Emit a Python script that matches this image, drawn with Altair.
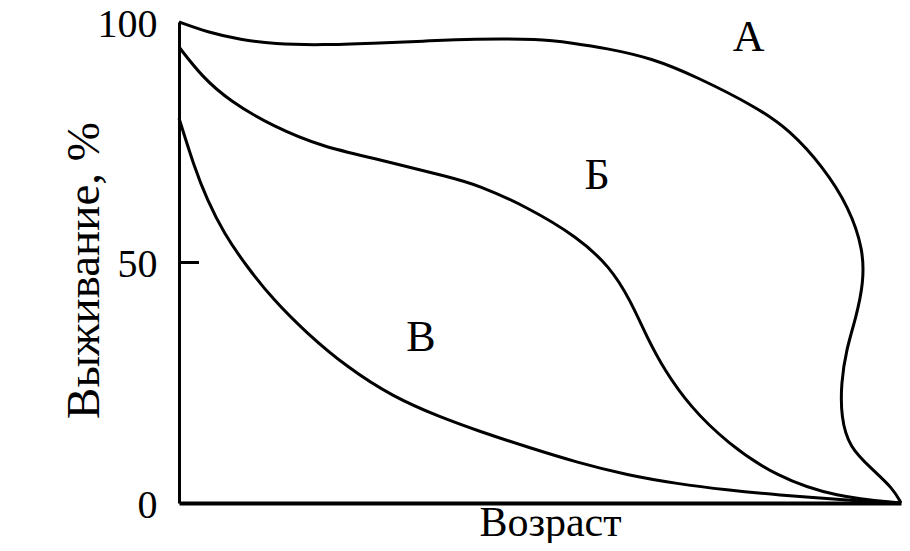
import altair as alt
import pandas as pd

FONT = "Liberation Serif"

# Curve A (convex survival): x = age (% of max), y = survival %
a_x = [0, 3.9, 8.6, 13.1, 20.0, 26.9, 33.8, 40.7, 49.9, 54.5, 59.0, 65.5, 71.7, 80.0, 84.6, 89.2, 92.8, 94.8, 94.8, 93.8, 92.4, 91.7, 91.7, 92.8, 96.1, 98.9, 100]
a_y = [100, 97.9, 96.3, 95.4, 95.2, 95.6, 96.0, 96.5, 96.5, 95.6, 94.6, 92.5, 88.6, 82.3, 77.5, 69.9, 61.5, 52.6, 45.7, 38.7, 31.8, 24.9, 17.9, 11.6, 6.9, 3.0, 0]

# Curve Б
b_x = [0, 3.2, 7.0, 13.1, 20.0, 26.9, 37.9, 41.4, 48.3, 55.2, 59.7, 62.5, 64.8, 67.2, 70.8, 75.9, 82.8, 91.0, 100]
b_y = [94.8, 88.6, 83.6, 78.2, 74.0, 71.7, 67.6, 66.1, 61.5, 55.3, 49.1, 42.2, 34.5, 27.7, 20.0, 12.5, 5.4, 1.2, 0]

# Curve В
v_x = [0, 2.1, 3.9, 6.2, 9.4, 13.1, 17.7, 23.2, 29.7, 36.1, 41.4, 48.3, 55.2, 62.1, 69.0, 75.9, 82.8, 92.4, 100]
v_y = [80.0, 69.9, 63.0, 56.1, 49.1, 42.2, 35.3, 28.3, 22.0, 17.9, 15.0, 11.6, 8.4, 5.8, 4.0, 2.7, 1.7, 0.6, 0]

# Curve labels
label_text = ["А", "Б", "В"]
label_x = [78.9, 57.9, 33.5]
label_y = [96.7, 68.0, 34.3]

y_ticks = [0, 50, 100]
inner_ticks = [50]

rows = []
for name, xs, ys in [("A", a_x, a_y), ("Б", b_x, b_y), ("В", v_x, v_y)]:
    for i, (x, y) in enumerate(zip(xs, ys)):
        rows.append({"curve": name, "i": i, "age": x, "surv": y})
df = pd.DataFrame(rows)
labels_df = pd.DataFrame({"t": label_text, "age": label_x, "surv": label_y})
ticks_df = pd.DataFrame({"surv": inner_ticks})

x_scale = alt.Scale(domain=[0, 100], nice=False, zero=False)
y_scale = alt.Scale(domain=[0, 100], nice=False)

lines = alt.Chart(df).mark_line(
    color="black", strokeWidth=3, interpolate="basis", clip=False
).encode(
    x=alt.X("age:Q", scale=x_scale, axis=alt.Axis(
        title="Возраст", labels=False, ticks=False, grid=False,
        domainWidth=4, domainColor="black",
        titleFont=FONT, titleFontSize=42, titleFontWeight="normal", titleColor="black",
        titleX=371, titleY=32, titleBaseline="alphabetic", titleAlign="center")),
    y=alt.Y("surv:Q", scale=y_scale, axis=alt.Axis(
        title="Выживание, %", values=y_ticks, ticks=False, grid=False,
        domainWidth=3, domainColor="black",
        labelFont=FONT, labelFontSize=40, labelColor="black", labelPadding=22,
        labelOffset=2,
        titleFont=FONT, titleFontSize=47, titleFontWeight="normal", titleColor="black",
        titleX=-95, titleY=248, titleAngle=-90, titleBaseline="middle", titleAlign="center")),
    detail="curve:N",
    order="i:Q",
)

tick = alt.Chart(ticks_df).mark_rule(color="black", strokeWidth=3).encode(
    y=alt.Y("surv:Q", scale=y_scale),
    x=alt.value(0),
    x2=alt.value(20),
)

texts = alt.Chart(labels_df).mark_text(
    font=FONT, fontSize=44, color="black", baseline="middle", align="center"
).encode(
    x=alt.X("age:Q", scale=x_scale),
    y=alt.Y("surv:Q", scale=y_scale),
    text="t:N",
)

chart = alt.layer(lines, tick, texts).properties(
    width=722, height=481,
    autosize=alt.AutoSizeParams(type="none"),
    padding={"left": 171, "top": 14, "right": 1, "bottom": 40},
    background="white",
).configure_view(stroke=None)

chart.save("out.html", embed_options={"renderer": "svg", "actions": False})
